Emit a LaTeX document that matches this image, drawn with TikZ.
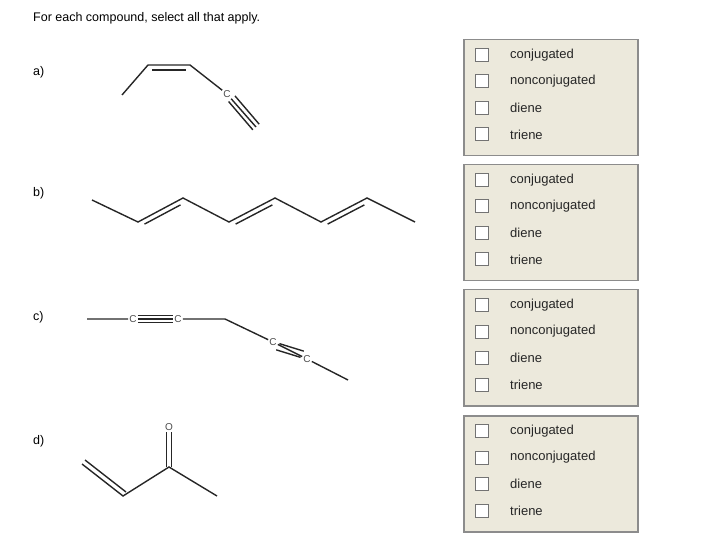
\documentclass[tikz,border=0pt]{standalone}
\usepackage{fontspec}
\setmainfont{Liberation Sans}
\usetikzlibrary{calc}
\begin{document}
\begin{tikzpicture}[x=1pt,y=-1pt,
  bond/.style={line width=1.4pt,black!85},
  panel/.style={draw=black!45,line width=1.5pt,fill={rgb,255:red,236;green,233;blue,220}},
  chk/.style={draw=black!55,line width=1pt,fill=white,minimum size=13pt,inner sep=0pt},
  opt/.style={anchor=west,font=\fontsize{13}{15}\selectfont,text=black!85,inner sep=0pt},
  lab/.style={anchor=west,font=\fontsize{12.5}{14}\selectfont,inner sep=0pt},
  atom/.style={font=\fontsize{10}{11}\selectfont,text=black!70,inner sep=1pt,fill=white}]
\useasboundingbox (0,0) rectangle (720,545);
\node[lab] (title) at (33,18) {For each compound, select all that apply.};
\foreach \l/\y in {a/72,b/193,c/317,d/441}{\node[lab] (lab\l) at (33,\y) {\l)};}
% panels
\foreach \i/\t in {1/39,2/164,3/289,4/415}{
  \node[panel,minimum width=174pt,minimum height=116pt,anchor=north west,inner sep=0pt] (p\i) at (463,\t) {};
  \foreach \j/\txt in {0/conjugated,1/nonconjugated,2/diene,3/triene}{
    \node[chk] (c\i\j) at (482,\t+16+\j*26.5) {};
    \node[opt] (t\i\j) at (510,\t+16+\j*26.5) {\txt};
  }}
% a
\coordinate (a1) at (122,95); \coordinate (a2) at (148,65); \coordinate (a3) at (190,65);
\node[atom] (aC) at (227,94) {C}; \coordinate (a5) at (256,127);
\draw[bond] (a1)--(a2)--(a3)--(aC);
\draw[bond] ([shift={(4,5)}]a2)--([shift={(-4,5)}]a3);
\draw[bond] (aC)--(a5);
\draw[bond] ([shift={(3.2,-2.8)}]aC.south east)--([shift={(3.2,-2.8)}]a5);
\draw[bond] ([shift={(-3.2,2.8)}]aC.south east)--([shift={(-3.2,2.8)}]a5);
% b
\coordinate (b1) at (92,200); \coordinate (b2) at (138,222); \coordinate (b3) at (183,198);
\coordinate (b4) at (229,222); \coordinate (b5) at (275,198); \coordinate (b6) at (321,222);
\coordinate (b7) at (367,198); \coordinate (b8) at (415,222);
\draw[bond] (b1)--(b2)--(b3)--(b4)--(b5)--(b6)--(b7)--(b8);
\foreach \p/\q in {b2/b3,b4/b5,b6/b7}{
  \draw[bond] ($(\p)!0.1!(\q)+(2,4.5)$)--($(\q)!0.1!(\p)+(2,4.5)$);}
% c
\coordinate (c1) at (87,319); \node[atom] (cC1) at (133,319) {C}; \node[atom] (cC2) at (178,319) {C};
\coordinate (c4) at (225,319); \node[atom] (cC3) at (273,342) {C}; \node[atom] (cC4) at (307,359) {C};
\coordinate (c7) at (348,380);
\draw[bond] (c1)--(cC1) (cC2)--(c4)--(cC3) (cC4)--(c7);
\draw[bond] (cC1)--(cC2);
\draw[bond] ([yshift=-3.5]cC1.east)--([yshift=-3.5]cC2.west) ([yshift=3.5]cC1.east)--([yshift=3.5]cC2.west);
\draw[bond] (cC3)--(cC4);
\draw[bond] ([shift={(1.6,-3.1)}]cC3.south east)--([shift={(1.6,-3.1)}]cC4.north west);
\draw[bond] ([shift={(-1.6,3.1)}]cC3.south east)--([shift={(-1.6,3.1)}]cC4.north west);
% d
\coordinate (d1) at (82,464); \coordinate (d2) at (123,496); \coordinate (d3) at (169,467);
\coordinate (d4) at (217,496); \node[atom] (dO) at (169,427) {O};
\draw[bond] (d1)--(d2)--(d3)--(d4);
\draw[bond] ([shift={(3,-4)}]d1)--([shift={(3,-4)}]d2);
\draw[bond] ([xshift=-2.4]d3)--([xshift=-2.4]dO.south) ([xshift=2.4]d3)--([xshift=2.4]dO.south);
\end{tikzpicture}
\end{document}
